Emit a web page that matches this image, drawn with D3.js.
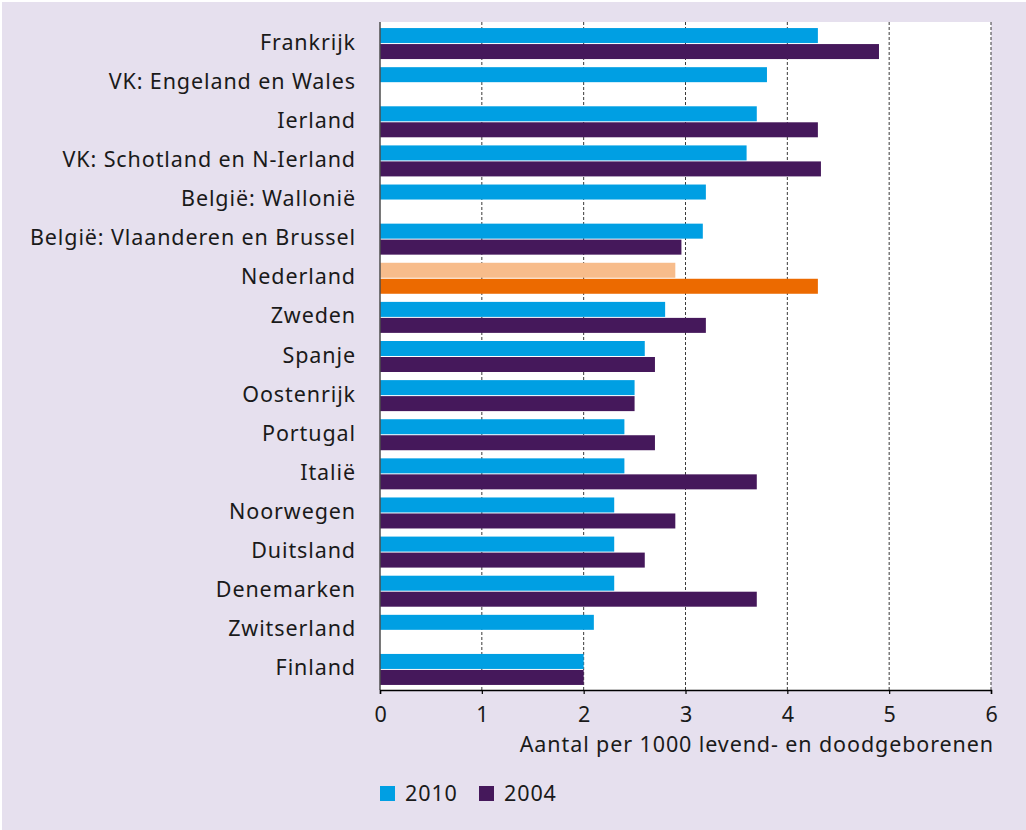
<!DOCTYPE html>
<html>
<head>
<meta charset="utf-8">
<script src="https://cdn.jsdelivr.net/npm/d3@7"></script>
<style>
  html, body { margin: 0; padding: 0; background: #ffffff; }
  svg { display: block; }
  text { font-family: "Noto Sans", sans-serif; fill: #1a1a1a; letter-spacing: 0.9px; }
</style>
</head>
<body>
<svg id="chart" width="1026" height="830"></svg>
<script>
// ---- data ----
const categories = [
  "Frankrijk",
  "VK: Engeland en Wales",
  "Ierland",
  "VK: Schotland en N-Ierland",
  "België: Wallonië",
  "België: Vlaanderen en Brussel",
  "Nederland",
  "Zweden",
  "Spanje",
  "Oostenrijk",
  "Portugal",
  "Italië",
  "Noorwegen",
  "Duitsland",
  "Denemarken",
  "Zwitserland",
  "Finland"
];
const values2010 = [4.3, 3.8, 3.7, 3.6, 3.2, 3.17, 2.9, 2.8, 2.6, 2.5, 2.4, 2.4, 2.3, 2.3, 2.3, 2.1, 2.0];
const values2004 = [4.9, null, 4.3, 4.33, null, 2.96, 4.3, 3.2, 2.7, 2.5, 2.7, 3.7, 2.9, 2.6, 3.7, null, 2.0];
const seriesNames = ["2010", "2004"];
const xTicks = [0, 1, 2, 3, 4, 5, 6];
const xTitle = "Aantal per 1000 levend- en doodgeborenen";
const highlight = "Nederland";

// ---- styles ----
const colors = { "2010": "#009fe3", "2004": "#45185b" };
const highlightColors = { "2010": "#f7bc8b", "2004": "#ec6a00" };

const svg = d3.select("#chart");
const W = 1026, H = 830;

svg.append("rect").attr("x", 2).attr("y", 2).attr("width", W - 2).attr("height", H - 2)
  .attr("fill", "#e6e0ee");

const x = d3.scaleLinear().domain([0, 6]).range([380, 991]);
const y = d3.scaleBand().domain(categories).range([24, 689])
  .paddingInner(0.2075).paddingOuter(0.10375);
const ySub = d3.scaleBand().domain(seriesNames).range([0, y.bandwidth()])
  .paddingInner(0.0625);

const plotTop = 22, plotBottom = 690;

// plot background
svg.append("rect").attr("x", x(0)).attr("y", plotTop)
  .attr("width", x(6) - x(0)).attr("height", plotBottom - plotTop)
  .attr("fill", "#ffffff");

// gridlines
svg.append("g").selectAll("line").data(xTicks.filter(d => d > 0)).join("line")
  .attr("x1", d => x(d)).attr("x2", d => x(d))
  .attr("y1", plotTop).attr("y2", plotBottom)
  .attr("stroke", "#3a3a3a").attr("stroke-width", 1)
  .attr("stroke-dasharray", "3,2");

// bars
const rows = categories.map((c, i) => ({ c, v: { "2010": values2010[i], "2004": values2004[i] } }));
const barData = [];
rows.forEach(r => seriesNames.forEach(s => {
  if (r.v[s] != null) barData.push({ c: r.c, s, v: r.v[s] });
}));
svg.append("g").selectAll("rect").data(barData).join("rect")
  .attr("x", x(0))
  .attr("y", d => y(d.c) + ySub(d.s))
  .attr("width", d => x(d.v) - x(0))
  .attr("height", ySub.bandwidth())
  .attr("fill", d => d.c === highlight ? highlightColors[d.s] : colors[d.s]);

// left axis line
svg.append("line").attr("x1", x(0)).attr("x2", x(0))
  .attr("y1", plotTop).attr("y2", plotBottom)
  .attr("stroke", "#4d4d4d").attr("stroke-width", 1.5);

// category labels
svg.append("g").selectAll("text").data(categories).join("text")
  .attr("x", 356)
  .attr("y", d => y(d) + y.bandwidth() / 2 + 6)
  .attr("text-anchor", "end")
  .attr("font-size", 21.5)
  .text(d => d);

// x axis
const xAxis = d3.axisBottom(x).tickValues(xTicks).tickSize(4).tickPadding(13)
  .tickFormat(d3.format("d"));
const gx = svg.append("g").attr("transform", `translate(0,${plotBottom})`).call(xAxis);
gx.select(".domain").attr("stroke", "#000").attr("stroke-width", 1.5);
gx.selectAll(".tick line").attr("stroke", "#000").attr("stroke-width", 1.2);
gx.selectAll(".tick text").attr("font-size", 21.5).attr("font-family", "Noto Sans, sans-serif")
  .attr("fill", "#1a1a1a").attr("dx", 0.5);

svg.append("text").attr("x", 994).attr("y", 752).attr("text-anchor", "end")
  .attr("font-size", 21.5).text(xTitle);

// legend
const legend = svg.append("g");
const legendX = [380, 479];
seriesNames.forEach((s, i) => {
  legend.append("rect").attr("x", legendX[i]).attr("y", 786).attr("width", 15).attr("height", 15)
    .attr("fill", colors[s]);
  legend.append("text").attr("x", legendX[i] + 25).attr("y", 801)
    .attr("font-size", 21.5).attr("letter-spacing", 2.2).text(s);
});
</script>
</body>
</html>
